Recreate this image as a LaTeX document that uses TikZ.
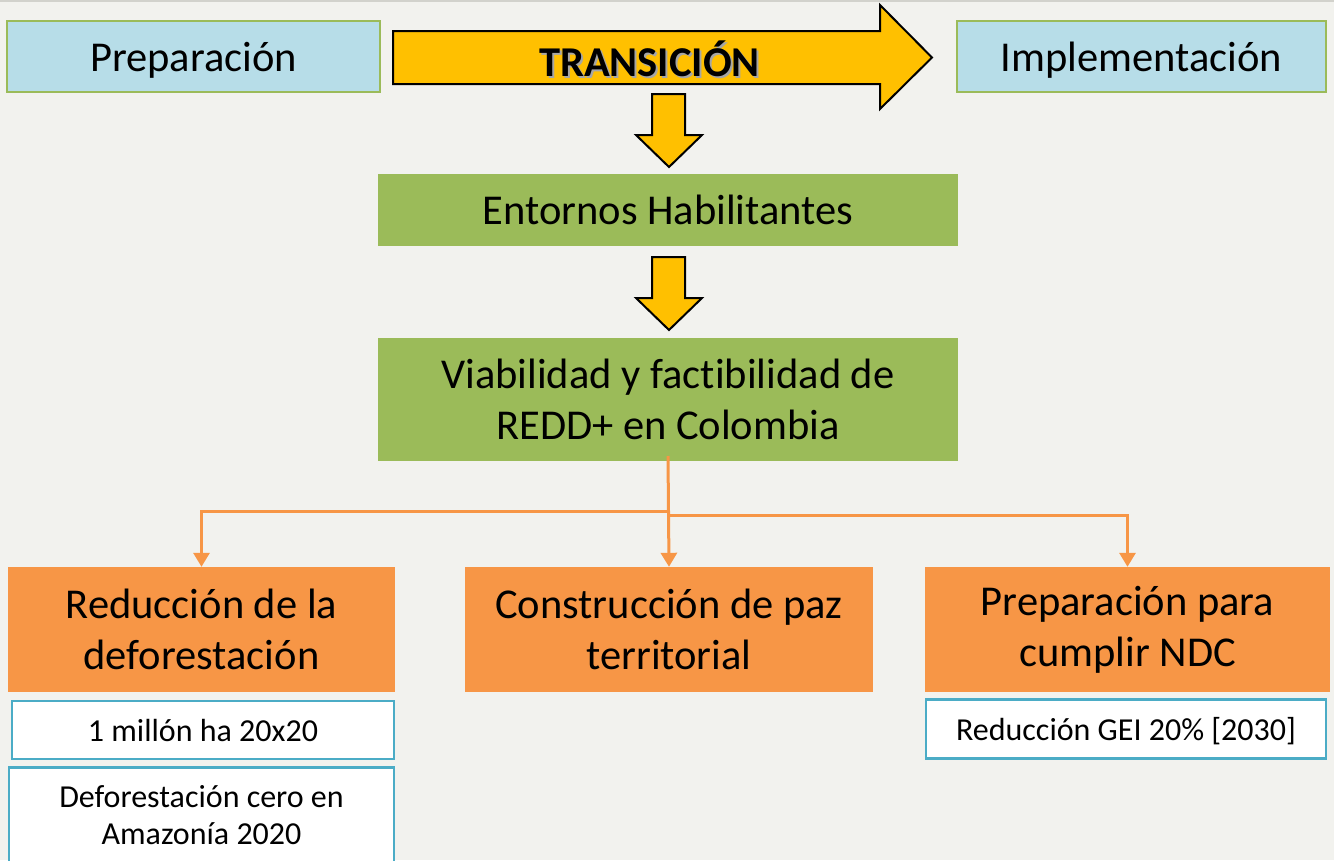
\documentclass[tikz,border=0pt]{standalone}
\usepackage{fontspec}
\setmainfont{Carlito}[Ligatures=NoCommon]
\usetikzlibrary{arrows.meta}
\definecolor{bg}{HTML}{F2F2EE}
\definecolor{topline}{HTML}{D2D2CC}
\definecolor{lblue}{HTML}{B7DDE8}
\definecolor{lgreen}{HTML}{9BBB59}
\definecolor{orng}{HTML}{F79646}
\definecolor{yell}{HTML}{FFC000}
\definecolor{cyanb}{HTML}{4BACC6}
\tikzset{
  bigfont/.style={font=\fontsize{42.5}{51}\selectfont},
  smallfont/.style={font=\fontsize{32}{37}\selectfont},
  phasebox/.style={draw=lgreen, line width=2pt, fill=lblue, inner sep=0pt, bigfont},
  greenbox/.style={fill=lgreen, inner sep=0pt, align=center, bigfont},
  orangebox/.style={fill=orng, inner sep=0pt, align=center, bigfont},
  goalbox/.style={draw=cyanb, line width=2.5pt, fill=white, inner sep=0pt, align=center, smallfont},
  blockarrow/.style={fill=yell, draw=black, line width=2pt, line join=miter},
  conn/.style={draw=orng, line width=3pt, -{Triangle[width=16pt,length=14pt]}},
  transfont/.style={font=\fontsize{42.5}{51}\selectfont\bfseries},
}
\begin{document}
\begin{tikzpicture}[x=1pt,y=-1pt]
\fill[bg] (0,0) rectangle (1334,860);
\useasboundingbox (0,0) rectangle (1334,860);
\draw[topline, line width=2pt] (0,1) -- (1334,1);

% top row
\node[phasebox, minimum width=373, minimum height=71] (prep) at (193.5,56.5) {};
\node[bigfont] (preptext) at (193.5,60) {Preparación};
\node[phasebox, minimum width=369, minimum height=71] (impl) at (1141.5,56.5) {};
\node[bigfont] (impltext) at (1141.5,60) {Implementación};

% big arrow
\draw[blockarrow] (393,31) -- (880,31) -- (880,5) -- (932,57.5) -- (880,109) -- (880,84) -- (393,84) -- cycle;
\node[transfont, text=black!35] (transshadow) at (651.5,60.5) {TRANSICIÓN};
\node[transfont] (trans) at (649.5,58.5) {TRANSICIÓN};

% down arrows
\draw[blockarrow] (652,94) -- (685,94) -- (685,135) -- (702,135) -- (669,167) -- (636,135) -- (652,135) -- cycle;
\draw[blockarrow] (652,257) -- (685,257) -- (685,298) -- (702,298) -- (669,330) -- (636,298) -- (652,298) -- cycle;

% green boxes
\node[greenbox, minimum width=580, minimum height=72] (ent) at (668,210) {Entornos Habilitantes};
\node[greenbox, minimum width=580, minimum height=123] (viab) at (668,399.5) {Viabilidad y factibilidad de\\REDD+ en Colombia};

% orange boxes
\node[orangebox, minimum width=387, minimum height=125] (red) at (201.5,629.5) {Reducción de la\\deforestación};
\node[orangebox, minimum width=408, minimum height=125] (paz) at (669,629.5) {Construcción de paz\\territorial};
\node[orangebox, minimum width=405, minimum height=125] (ndc) at (1127.5,629.5) {Preparación para\\cumplir NDC};

% goal boxes
\node[goalbox, minimum width=382, minimum height=58] (g1) at (203,730) {1 millón ha 20x20};
\node[goalbox, minimum width=385, minimum height=100, anchor=north] (g2) at (201.5,766) {};
\node[smallfont, align=center, text depth=0pt] (g2t) at (201.5,815) {Deforestación cero en\\Amazonía 2020};
\node[goalbox, minimum width=400, minimum height=59] (g3) at (1126,729) {};
\node[smallfont] (g3t) at (1126,731) {Reducción GEI 20\% [2030]};

% connectors
\coordinate (s) at (668,456);
\coordinate (j1) at (668,511);
\coordinate (j2) at (668,515);
\draw[conn] (s) -- (paz.north);
\draw[conn] (j1) -| (red.north);
\draw[conn] (j2) -| (ndc.north);
\end{tikzpicture}
\end{document}
